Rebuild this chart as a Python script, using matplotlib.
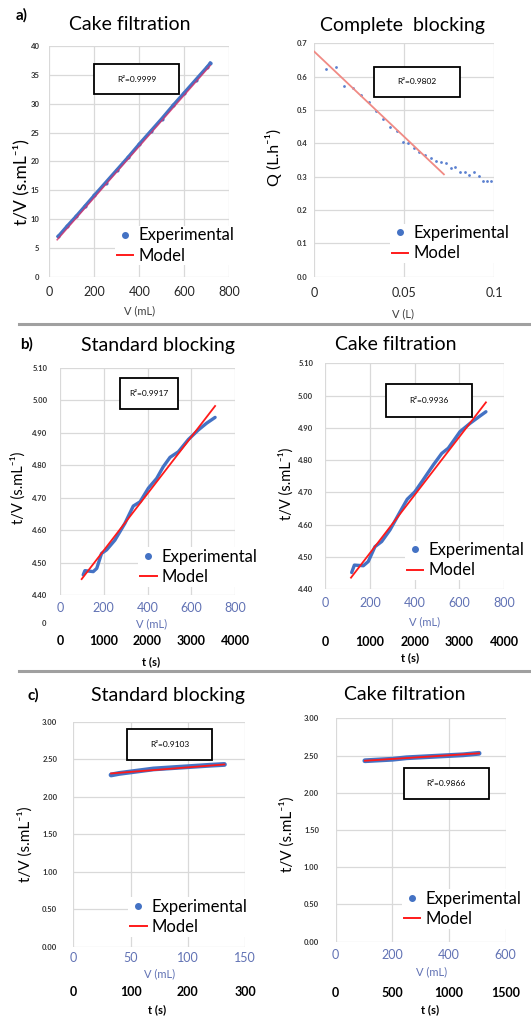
import matplotlib
matplotlib.use("Agg")
import matplotlib.pyplot as plt
from matplotlib.lines import Line2D
from matplotlib.patches import Rectangle

plt.rcParams['font.family'] = ['Lato', 'DejaVu Sans']

W, H = 531, 1021
BLUE = '#4472c4'
RED = '#ff1a1a'

# a) cake filtration, t/V vs V
a1_v = [40, 80, 120, 160, 200, 250, 300, 350, 400, 450, 500, 550, 600, 650, 700, 715]
a1_tv = [7.0, 8.8, 10.5, 12.3, 14.1, 16.3, 18.5, 20.7, 23.0, 25.2, 27.4, 29.7, 31.9, 34.1, 36.3, 37.0]
a1_model_v = [35, 715]
a1_model_tv = [6.4, 36.6]

# a) complete blocking, Q vs V
a2_v = [0.0065, 0.0119, 0.0165, 0.0213, 0.026, 0.0304, 0.0343, 0.0383, 0.042, 0.0458,
        0.0491, 0.0522, 0.0556, 0.0583, 0.0615, 0.0647, 0.0676, 0.0704, 0.073, 0.0758,
        0.0783, 0.081, 0.0837, 0.0861, 0.0887, 0.0915, 0.0937, 0.0961, 0.0983]
a2_q = [0.622, 0.630, 0.573, 0.565, 0.545, 0.523, 0.497, 0.472, 0.450, 0.438,
        0.405, 0.402, 0.385, 0.373, 0.365, 0.355, 0.347, 0.345, 0.340, 0.325,
        0.330, 0.313, 0.315, 0.305, 0.313, 0.303, 0.288, 0.288, 0.287]
a2_model_v = [0.0, 0.072]
a2_model_q = [0.675, 0.307]

# b) standard blocking
b1_v = [106, 114, 152, 168, 190, 213, 251, 297, 335, 366, 404, 442, 472, 503, 541, 587, 632, 670, 709]
b1_tv = [4.462, 4.475, 4.472, 4.482, 4.528, 4.539, 4.569, 4.621, 4.674, 4.687, 4.729, 4.759,
         4.795, 4.824, 4.841, 4.879, 4.908, 4.929, 4.947]
b1_model_v = [99, 709]
b1_model_tv = [4.449, 4.982]

# b) cake filtration
b2_v = [119, 131, 171, 193, 223, 253, 290, 335, 367, 401, 438, 483, 521, 550, 602, 647, 688, 718]
b2_tv = [4.452, 4.475, 4.473, 4.486, 4.532, 4.548, 4.584, 4.640, 4.679, 4.702, 4.739, 4.785,
         4.821, 4.837, 4.888, 4.914, 4.935, 4.950]
b2_model_v = [116, 718]
b2_model_tv = [4.436, 4.979]

# c) standard blocking
c1_v = [33, 40, 50, 60, 70, 80, 90, 100, 110, 120, 132]
c1_tv = [2.29, 2.31, 2.33, 2.35, 2.37, 2.38, 2.39, 2.40, 2.41, 2.42, 2.43]
c1_model_v = [33, 132]
c1_model_tv = [2.31, 2.43]

# c) cake filtration
c2_v = [103, 150, 200, 250, 300, 350, 400, 450, 506]
c2_tv = [2.43, 2.44, 2.45, 2.47, 2.48, 2.49, 2.50, 2.51, 2.53]
c2_model_v = [103, 506]
c2_model_tv = [2.43, 2.53]

fig = plt.figure(figsize=(W / 100, H / 100), dpi=100)


def add_ax(x0, y0, x1, y1):
    return fig.add_axes([x0 / W, 1 - y1 / H, (x1 - x0) / W, (y1 - y0) / H])


def style(ax, xlim, xticks, ylim, yticks, yfmt, xpad, ypad, xcol='#262626'):
    ax.set_xlim(xlim)
    ax.set_ylim(ylim)
    ax.set_xticks(xticks)
    ax.set_yticks(yticks)
    ax.set_yticklabels([yfmt.format(v) for v in yticks])
    for s in ax.spines.values():
        s.set_visible(False)
    ax.grid(True, color='#d9d9d9', lw=0.9)
    ax.set_axisbelow(True)
    ax.tick_params(axis='x', length=0, labelsize=9, pad=xpad, labelcolor=xcol)
    ax.tick_params(axis='y', length=0, labelsize=5.5, pad=ypad, labelcolor='#333333')
    for lab in ax.get_yticklabels():
        lab.set_fontweight('bold')


def r2_box(ax, x0, x1, y0, y1, txt):
    ax.add_patch(Rectangle((x0, y0), x1 - x0, y1 - y0, transform=ax.transAxes,
                           fc='white', ec='black', lw=1.3, zorder=5, clip_on=False))
    ax.text((x0 + x1) / 2, (y0 + y1) / 2, txt, transform=ax.transAxes, ha='center',
            va='center', fontsize=6, zorder=6)


def legend(ax, x, ymid):
    handles = [Line2D([], [], marker='o', ls='none', color=BLUE, markersize=4),
               Line2D([], [], color=RED, lw=1.4)]
    ax.legend(handles, ['Experimental', 'Model'], loc='center left', bbox_to_anchor=(x, ymid),
              fontsize=12, handlelength=1.0, handletextpad=0.3, labelspacing=0.25,
              borderpad=0.1, borderaxespad=0, frameon=True, facecolor='white',
              edgecolor='none', framealpha=1, fancybox=False)


def ylabel(ax, txt, x, y, size):
    ax.set_ylabel(txt, fontsize=size, va='center')
    ax.yaxis.set_label_coords(x, y)


def xlabel(ax, txt, x, y, col):
    ax.set_xlabel(txt, fontsize=8, color=col)
    ax.xaxis.set_label_coords(x, y)


def t_axis(ax, factor, ticks, loc):
    sec = ax.secondary_xaxis(loc, functions=(lambda v, f=factor: v * f, lambda t, f=factor: t / f))
    sec.set_xticks(ticks)
    sec.spines['bottom'].set_visible(False)
    sec.tick_params(length=0, labelsize=9, pad=0)
    for lab in sec.get_xticklabels():
        lab.set_fontweight('bold')
    return sec


TVLAB = 't/V (s.mL⁻¹)'
VCOL = '#6172b4'

# ---- a) left
ax = add_ax(49.3, 46, 229.3, 276.7)
ax.plot(a1_v, a1_tv, color=BLUE, lw=2.4, marker='o', ms=2, zorder=2)
ax.plot(a1_model_v, a1_model_tv, color='#d8306a', lw=1.1, alpha=0.8, zorder=3)
style(ax, (0, 800), [0, 200, 400, 600, 800], (0, 40), list(range(0, 41, 5)), '{:d}', 6.5, 7)
r2_box(ax, 0.25, 0.72, 0.79, 0.92, 'R²=0.9999')
legend(ax, 0.365, 0.135)
ylabel(ax, TVLAB, -0.155, 0.41, 12.5)
xlabel(ax, 'V (mL)', 0.504, -0.126, '#404040')

# ---- a) right
ax = add_ax(314.3, 43.3, 494.3, 276.7)
ax.plot(a2_model_v, a2_model_q, color='#f08a84', lw=1.3, zorder=3)
ax.scatter(a2_v, a2_q, s=4, color='#5b80d0', zorder=2, linewidths=0)
style(ax, (0, 0.1), [0, 0.05, 0.1], (0, 0.7), [i / 10 for i in range(8)], '{:.1f}', 7.2, 4.8)
ax.set_xticklabels(['0', '0.05', '0.1'])
r2_box(ax, 0.33, 0.81, 0.77, 0.90, 'R²=0.9802')
legend(ax, 0.42, 0.143)
ylabel(ax, 'Q (L.h⁻¹)', -0.228, 0.51, 11.5)
xlabel(ax, 'V (L)', 0.494, -0.135, '#404040')

# ---- b) left
ax = add_ax(60, 367.7, 235, 595)
ax.plot(b1_v, b1_tv, color=BLUE, lw=2.4, zorder=2, solid_capstyle='round')
ax.plot(b1_model_v, b1_model_tv, color=RED, lw=1.3, zorder=3)
style(ax, (0, 800), [0, 200, 400, 600, 800], (4.40, 5.10), [4.4 + i / 10 for i in range(8)],
      '{:.2f}', 5, 9, VCOL)
r2_box(ax, 0.345, 0.675, 0.817, 0.956, 'R²=0.9917')
legend(ax, 0.447, 0.123)
ylabel(ax, TVLAB, -0.238, 0.47, 10.5)
xlabel(ax, 'V (mL)', 0.524, -0.101, VCOL)
t_axis(ax, 5, [0, 1000, 2000, 3000, 4000], -0.176)

# ---- b) right
ax = add_ax(325, 363.3, 504.3, 589.3)
ax.plot(b2_v, b2_tv, color=BLUE, lw=2.4, zorder=2, solid_capstyle='round')
ax.plot(b2_model_v, b2_model_tv, color=RED, lw=1.3, zorder=3)
style(ax, (0, 800), [0, 200, 400, 600, 800], (4.40, 5.10), [4.4 + i / 10 for i in range(8)],
      '{:.2f}', 5.8, 8.4, VCOL)
r2_box(ax, 0.34, 0.82, 0.764, 0.907, 'R²=0.9936')
legend(ax, 0.446, 0.128)
ylabel(ax, TVLAB, -0.219, 0.466, 10.5)
xlabel(ax, 'V (mL)', 0.558, -0.121, VCOL)
t_axis(ax, 5, [0, 1000, 2000, 3000, 4000], -0.205)

# ---- c) left
ax = add_ax(73.3, 721.7, 245, 946.7)
ax.plot(c1_v, c1_tv, color=BLUE, lw=3.5, zorder=2, solid_capstyle='round')
ax.plot(c1_model_v, c1_model_tv, color=RED, lw=1.3, zorder=3)
style(ax, (0, 150), [0, 50, 100, 150], (0, 3), [i / 2 for i in range(7)], '{:.2f}', 4, 11.5, VCOL)
r2_box(ax, 0.31, 0.81, 0.83, 0.966, 'R²=0.9103')
legend(ax, 0.32, 0.133)
ylabel(ax, TVLAB, -0.281, 0.456, 11)
xlabel(ax, 'V (mL)', 0.505, -0.096, VCOL)
t_axis(ax, 2, [0, 100, 200, 300], -0.173)

# ---- c) right
ax = add_ax(335.7, 718.3, 505.7, 941.7)
ax.plot(c2_v, c2_tv, color=BLUE, lw=3.5, zorder=2, solid_capstyle='round')
ax.plot(c2_model_v, c2_model_tv, color=RED, lw=1.3, zorder=3)
style(ax, (0, 600), [0, 200, 400, 600], (0, 3), [i / 2 for i in range(7)], '{:.2f}', 5.3, 12, VCOL)
r2_box(ax, 0.40, 0.90, 0.637, 0.779, 'R²=0.9866')
legend(ax, 0.39, 0.147)
ylabel(ax, TVLAB, -0.288, 0.482, 11)
xlabel(ax, 'V (mL)', 0.565, -0.112, VCOL)
t_axis(ax, 2.5, [0, 500, 1000, 1500], -0.204)


def ftext(x, y, s, **kw):
    fig.text(x / W, 1 - y / H, s, ha='center', va='center', **kw)


# titles and panel letters
ftext(130, 25, 'Cake filtration', fontsize=14)
ftext(402.6, 25, 'Complete  blocking', fontsize=14)
ftext(158, 345, 'Standard blocking', fontsize=14)
ftext(395.5, 344, 'Cake filtration', fontsize=14)
ftext(168, 695, 'Standard blocking', fontsize=14)
ftext(405, 695, 'Cake filtration', fontsize=14)
ftext(22, 15, 'a)', fontsize=11, fontweight='bold')
ftext(27, 344, 'b)', fontsize=11, fontweight='bold')
ftext(33, 695, 'c)', fontsize=11, fontweight='bold')

# t axis titles
ftext(150.7, 662, 't (s)', fontsize=8, fontweight='bold')
ftext(410, 657.3, 't (s)', fontsize=8, fontweight='bold')
ftext(156.7, 1010, 't (s)', fontsize=8, fontweight='bold')
ftext(430, 1010, 't (s)', fontsize=8, fontweight='bold')
ftext(44, 623, '0', fontsize=5.5, fontweight='bold', color='#333333')

# separators between rows
for yy in (324, 671):
    fig.add_artist(Line2D([19 / W, 1], [1 - yy / H, 1 - yy / H], color='#a0a0a0', lw=2.2))

fig.savefig('out.png', dpi=100)
